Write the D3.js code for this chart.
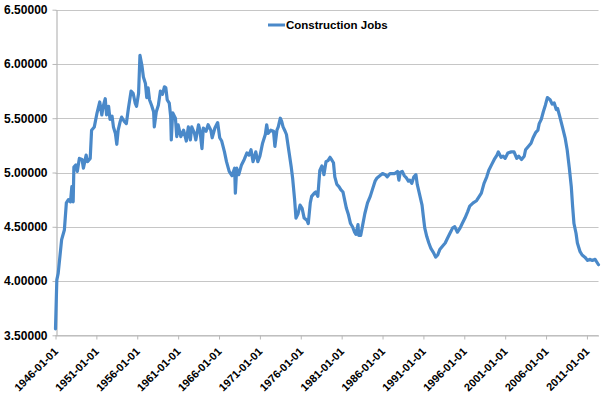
<!DOCTYPE html>
<html>
<head>
<meta charset="utf-8">
<script src="https://cdn.jsdelivr.net/npm/d3@7/dist/d3.min.js"></script>
<style>
  html, body { margin: 0; padding: 0; background: #ffffff; }
  svg { display: block; }
  text { font-family: "Liberation Sans", Arial, sans-serif; font-weight: bold; fill: #000; }
</style>
</head>
<body>
<svg id="chart" width="615" height="397"></svg>
<script>
// ---- Data ----
const seriesName = "Construction Jobs";

const months = [
  "1946-01","1946-03","1946-05","1946-10","1947-02","1947-05","1947-08","1947-11","1948-01","1948-03",
  "1948-04","1948-07","1948-09","1948-12","1949-04","1949-06","1949-10","1949-12","1950-04","1950-06",
  "1950-10","1951-02","1951-06","1951-09","1951-11","1952-02","1952-04","1952-07","1952-09","1952-12",
  "1953-02","1953-05","1953-07","1953-09","1953-12","1954-02","1954-06","1954-09","1954-12","1955-04",
  "1955-07","1955-10","1955-12","1956-03","1956-05","1956-08","1956-10","1957-01","1957-03","1957-05",
  "1957-07","1957-10","1958-01","1958-02","1958-05","1958-08","1958-11","1959-02","1959-05","1959-07",
  "1959-09","1959-12","1960-02","1960-03","1960-05","1960-09","1960-11","1961-01","1961-05","1961-09",
  "1962-01","1962-04","1962-07","1962-09","1963-01","1963-03","1963-07","1963-09","1963-12","1964-02",
  "1964-06","1964-09","1965-01","1965-03","1965-07","1965-11","1966-02","1966-05","1966-09","1966-12",
  "1967-04","1967-08","1967-12","1968-01","1968-03","1968-06","1968-10","1969-02","1969-06","1969-09",
  "1969-12","1970-03","1970-07","1970-10","1971-01","1971-05","1971-09","1971-11","1972-01","1972-05",
  "1972-09","1972-11","1973-02","1973-04","1973-07","1973-09","1973-11","1974-02","1974-04","1974-08",
  "1974-11","1975-01","1975-04","1975-06","1975-09","1975-12","1976-03","1976-06","1976-10","1976-12",
  "1977-03","1977-05","1977-09","1977-11","1978-02","1978-05","1978-08","1978-11","1979-02","1979-05",
  "1979-08","1979-10","1980-01","1980-03","1980-06","1980-09","1980-12","1981-03","1981-06","1981-08",
  "1981-11","1982-02","1982-05","1982-08","1982-10","1983-01","1983-02","1983-05","1983-08","1983-11",
  "1984-03","1984-07","1984-10","1985-02","1985-05","1985-09","1986-01","1986-05","1986-08","1986-12",
  "1987-04","1987-07","1987-11","1988-01","1988-03","1988-06","1988-09","1988-12","1989-03","1989-05",
  "1989-08","1989-11","1990-02","1990-04","1990-07","1990-11","1991-01","1991-03","1991-06","1991-09",
  "1991-12","1992-04","1992-07","1992-10","1993-01","1993-05","1993-09","1993-12","1994-04","1994-08",
  "1994-11","1995-03","1995-07","1995-10","1996-02","1996-06","1996-09","1997-02","1997-07","1997-11",
  "1998-02","1998-06","1998-10","1999-01","1999-05","1999-09","2000-01","2000-03","2000-07","2000-10",
  "2001-01","2001-05","2001-10","2002-02","2002-06","2002-09","2003-01","2003-05","2003-07","2003-11",
  "2004-03","2004-06","2004-10","2005-01","2005-03","2005-06","2005-09","2005-12","2006-03","2006-07",
  "2006-10","2007-01","2007-04","2007-06","2007-09","2008-01","2008-05","2008-08","2008-11","2009-02",
  "2009-04","2009-06","2009-09","2009-11","2010-03","2010-06","2010-10","2011-02","2011-05","2011-09",
  "2012-01","2012-03","2012-06"
];

const values = [
  3.56,4.01,4.07,4.38,4.47,4.72,4.75,4.73,4.87,4.73,
  5.05,5.07,5.01,5.13,5.12,5.04,5.16,5.10,5.13,5.39,
  5.42,5.55,5.65,5.53,5.61,5.68,5.53,5.61,5.49,5.52,
  5.42,5.36,5.26,5.39,5.47,5.51,5.47,5.45,5.59,5.75,
  5.73,5.64,5.61,5.73,6.08,5.98,5.88,5.82,5.69,5.78,
  5.67,5.62,5.56,5.42,5.56,5.62,5.75,5.72,5.79,5.78,
  5.67,5.64,5.52,5.30,5.55,5.50,5.33,5.44,5.33,5.39,
  5.29,5.42,5.30,5.42,5.36,5.30,5.44,5.39,5.22,5.41,
  5.38,5.44,5.39,5.32,5.41,5.46,5.32,5.29,5.19,5.10,
  5.01,4.97,5.04,4.81,5.04,4.98,5.07,5.12,5.18,5.16,
  5.21,5.10,5.19,5.10,5.15,5.27,5.35,5.44,5.36,5.39,
  5.38,5.24,5.39,5.42,5.50,5.47,5.42,5.38,5.35,5.18,
  5.05,4.95,4.75,4.58,4.62,4.70,4.67,4.58,4.56,4.53,
  4.72,4.78,4.81,4.82,4.78,5.02,5.06,4.98,5.10,5.11,
  5.14,5.12,5.09,4.96,4.89,4.87,4.84,4.82,4.73,4.67,
  4.61,4.53,4.50,4.45,4.43,4.52,4.42,4.42,4.52,4.62,
  4.72,4.78,4.84,4.92,4.95,4.97,4.99,4.98,4.96,4.99,
  4.99,4.99,5.01,4.93,5.00,5.01,4.97,4.95,4.92,4.93,
  4.90,4.96,4.98,4.89,4.81,4.70,4.59,4.49,4.41,4.35,
  4.30,4.26,4.22,4.24,4.29,4.32,4.35,4.39,4.44,4.49,
  4.50,4.45,4.49,4.53,4.58,4.64,4.69,4.72,4.74,4.78,
  4.81,4.90,4.96,5.02,5.07,5.12,5.16,5.19,5.14,5.15,
  5.13,5.18,5.19,5.19,5.13,5.15,5.12,5.15,5.21,5.24,
  5.27,5.32,5.37,5.39,5.45,5.49,5.56,5.62,5.69,5.67,
  5.63,5.64,5.58,5.59,5.52,5.42,5.32,5.21,5.05,4.87,
  4.69,4.53,4.44,4.35,4.27,4.24,4.22,4.19,4.20,4.19,
  4.20,4.18,4.15
];

const xTickLabels = [
  "1946-01-01","1951-01-01","1956-01-01","1961-01-01","1966-01-01","1971-01-01","1976-01-01",
  "1981-01-01","1986-01-01","1991-01-01","1996-01-01","2001-01-01","2006-01-01","2011-01-01"
];
const yTicks = [3.5, 4.0, 4.5, 5.0, 5.5, 6.0, 6.5];
const xDomainEnd = "2012-06-01";

(function draw() {
  const svg = d3.select("#chart");
  const plotLeft = 55.5, plotRight = 598.5, plotTop = 9.7, plotBottom = 335.3;
  const lineColor = "#4a89c9";
  const axisColor = "#b8b8b8";

  const parseMonth = d3.timeParse("%Y-%m");
  const parseDay = d3.timeParse("%Y-%m-%d");

  const x = d3.scaleTime()
    .domain([parseDay(xTickLabels[0]), parseDay(xDomainEnd)])
    .range([plotLeft, plotRight]);
  const y = d3.scaleLinear()
    .domain([yTicks[0], yTicks[yTicks.length - 1]])
    .range([plotBottom, plotTop]);

  const data = months.map((m, i) => ({ date: parseMonth(m), value: values[i] }));

  // gridlines
  svg.append("g")
    .selectAll("line")
    .data(yTicks)
    .join("line")
    .attr("x1", plotLeft)
    .attr("x2", plotRight)
    .attr("y1", d => Math.round(y(d)) + 0.5)
    .attr("y2", d => Math.round(y(d)) + 0.5)
    .attr("stroke", "#c6c6c6")
    .attr("stroke-width", 1.2);

  // y axis
  const yAxis = svg.append("g")
    .attr("transform", `translate(${Math.round(plotLeft) + 0.5},0)`)
    .call(d3.axisLeft(y).tickValues(yTicks).tickFormat(d3.format(".5f")).tickSize(4).tickSizeOuter(0).tickPadding(5));
  yAxis.select(".domain").attr("stroke", axisColor).attr("stroke-width", 1.2);
  yAxis.selectAll(".tick line").attr("stroke", axisColor);
  yAxis.selectAll(".tick text")
    .style("font-size", "12px")
    .style("font-family", "'Liberation Sans', Arial, sans-serif")
    .style("font-weight", "bold")
    .attr("fill", "#000");

  // x axis
  const xAxis = svg.append("g")
    .attr("transform", `translate(0,${Math.round(plotBottom) + 0.5})`)
    .call(d3.axisBottom(x).tickValues(xTickLabels.map(parseDay)).tickFormat(d3.timeFormat("%Y-%m-%d")).tickSize(4).tickSizeOuter(0));
  xAxis.select(".domain").attr("stroke", axisColor).attr("stroke-width", 1.2);
  xAxis.selectAll(".tick line").attr("stroke", axisColor);
  xAxis.selectAll(".tick text")
    .style("font-size", "11px")
    .style("font-family", "'Liberation Sans', Arial, sans-serif")
    .style("font-weight", "bold")
    .attr("fill", "#000")
    .attr("text-anchor", "end")
    .attr("x", 0)
    .attr("y", 0)
    .attr("dy", "0.35em")
    .attr("transform", "translate(0,14) rotate(-45)");

  // series line
  const line = d3.line()
    .x(d => x(d.date))
    .y(d => y(d.value));

  svg.append("path")
    .datum(data)
    .attr("fill", "none")
    .attr("stroke", lineColor)
    .attr("stroke-width", 3.2)
    .attr("stroke-linejoin", "round")
    .attr("stroke-linecap", "round")
    .attr("d", line);

  // legend
  const legend = svg.append("g").attr("transform", "translate(268,25)");
  legend.append("line")
    .attr("x1", 0).attr("x2", 17).attr("y1", 0).attr("y2", 0)
    .attr("stroke", lineColor).attr("stroke-width", 3);
  legend.append("text")
    .attr("x", 18).attr("y", 0).attr("dy", "0.35em")
    .style("font-size", "11.5px")
    .text(seriesName);
})();
</script>
</body>
</html>
